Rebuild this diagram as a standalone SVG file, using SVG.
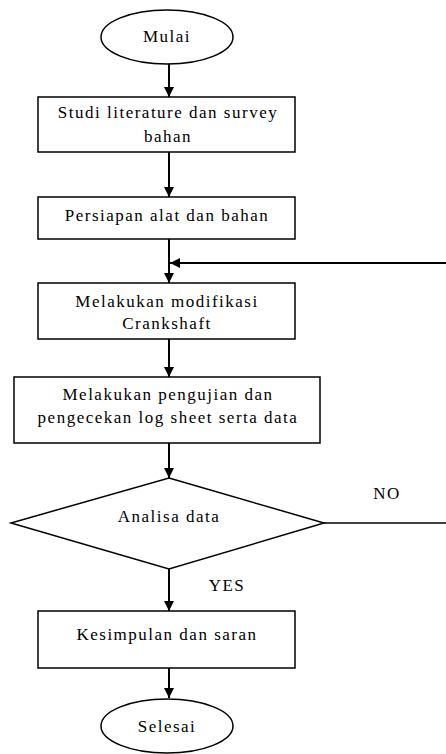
<svg xmlns="http://www.w3.org/2000/svg" width="446" height="754" viewBox="0 0 446 754">
<defs>
<marker id="ah" viewBox="0 0 10 10" refX="10" refY="5" markerWidth="5" markerHeight="5" orient="auto" markerUnits="strokeWidth">
<path d="M0,0 L10,5 L0,10 Z" fill="#000"/>
</marker>
<style>
.s{fill:#fff;stroke:#000;stroke-width:1.5}
.t{font-family:'Liberation Serif','Times New Roman',serif;font-size:17px;fill:#000;text-anchor:middle;letter-spacing:1.5px}
.c{fill:none;stroke:#000;stroke-width:2}
.a{marker-end:url(#ah)}
</style>
</defs>
<rect width="446" height="754" fill="#fff"/>
<g id="connectors">
<line class="c a" x1="169" y1="64" x2="169" y2="97"/>
<line class="c a" x1="169" y1="152" x2="169" y2="197"/>
<line class="c a" x1="169" y1="239" x2="169" y2="283"/>
<line class="c a" x1="446" y1="263" x2="170" y2="263"/>
<line class="c a" x1="169" y1="339" x2="169" y2="377"/>
<line class="c a" x1="169" y1="443" x2="169" y2="478"/>
<line class="c" x1="324" y1="523" x2="446" y2="523" style="stroke-width:1.5"/>
<line class="c a" x1="169" y1="569" x2="169" y2="611"/>
<line class="c a" x1="169" y1="668" x2="169" y2="698"/>
<text class="t" x="387" y="499">NO</text>
<text class="t" x="227" y="591">YES</text>
</g>
<g id="mulai">
<ellipse class="s" cx="167" cy="37" rx="66" ry="27"/>
<text class="t" x="167" y="42">Mulai</text>
</g>
<g id="studi">
<rect class="s" x="38" y="97" width="257" height="55"/>
<text class="t" x="168" y="118">Studi literature dan survey</text>
<text class="t" x="168" y="142">bahan</text>
</g>
<g id="persiapan">
<rect class="s" x="38" y="197" width="257" height="42"/>
<text class="t" x="167" y="221">Persiapan alat dan bahan</text>
</g>
<g id="modifikasi">
<rect class="s" x="38" y="283" width="257" height="56"/>
<text class="t" x="167" y="307">Melakukan modifikasi</text>
<text class="t" x="167" y="329">Crankshaft</text>
</g>
<g id="pengujian">
<rect class="s" x="14" y="377" width="306" height="66"/>
<text class="t" x="168" y="400">Melakukan pengujian dan</text>
<text class="t" x="168" y="423">pengecekan log sheet serta data</text>
</g>
<g id="analisa">
<polygon class="s" points="169,478 324,523 169,569 11,523"/>
<text class="t" x="169" y="522">Analisa data</text>
</g>
<g id="kesimpulan">
<rect class="s" x="38" y="611" width="257" height="57"/>
<text class="t" x="167" y="640">Kesimpulan dan saran</text>
</g>
<g id="selesai">
<ellipse class="s" cx="167" cy="726" rx="66" ry="27"/>
<text class="t" x="167" y="732">Selesai</text>
</g>
</svg>
